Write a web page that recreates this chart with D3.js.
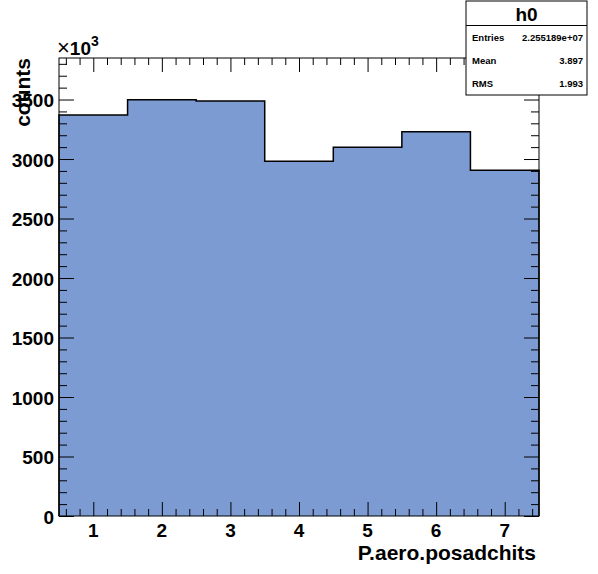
<!DOCTYPE html>
<html>
<head>
<meta charset="utf-8">
<script src="https://cdn.jsdelivr.net/npm/d3@7"></script>
<style>
  body { margin: 0; background: #fff; }
  svg { display: block; }
  text { font-family: "Liberation Sans", Arial, sans-serif; font-weight: bold; }
</style>
</head>
<body>
<div id="chart"></div>
<script>
// histogram bins (x = P.aero.posadchits), counts in units of 10^3
var binCenters = [1, 2, 3, 4, 5, 6, 7];
var binCounts = [3370, 3498, 3488, 2981, 3098, 3229, 2905];
var xTickValues = [1, 2, 3, 4, 5, 6, 7];
var yTickValues = [0, 500, 1000, 1500, 2000, 2500, 3000, 3500];

// stats box text
var statsTitle = "h0";
var statsNames = ["Entries", "Mean", "RMS"];
var statsValues = ["2.255189e+07", "3.897", "1.993"];

var width = 598;
var height = 574;

// frame position
var fLeft = 59, fRight = 539, fTop = 58, fBottom = 516;

var svg = d3.select("#chart")
    .append("svg")
    .attr("width", width)
    .attr("height", height);

var xScale = d3.scaleLinear().domain([0.5, 7.5]).range([fLeft, fRight]);
var yScale = d3.scaleLinear().domain([0, 3849]).range([fBottom, fTop]);

// histogram fill + outline
var stepPts = [[0.5, 0]];
binCenters.forEach(function(c, i) {
  stepPts.push([c - 0.5, binCounts[i]]);
  stepPts.push([c + 0.5, binCounts[i]]);
});
stepPts.push([7.5, 0]);

var line = d3.line()
    .x(function(d) { return xScale(d[0]); })
    .y(function(d) { return yScale(d[1]); });

svg.append("path")
    .attr("d", line(stepPts) + "Z")
    .attr("fill", "#7c9bd2")
    .attr("stroke", "none");

svg.append("path")
    .attr("d", line(stepPts))
    .attr("fill", "none")
    .attr("stroke", "#000")
    .attr("stroke-width", 1.5);

// minor tick values
var xMinor = d3.range(0.6, 7.5, 0.2).filter(function(v) {
  return Math.abs(v - Math.round(v)) > 0.01;
});
var yMinor = d3.range(100, 3849, 100).filter(function(v) { return v % 500 !== 0; });

function drawAxis(axis, tx, ty) {
  var g = svg.append("g")
      .attr("transform", "translate(" + tx + "," + ty + ")")
      .call(axis);
  g.select(".domain").remove();
  g.selectAll("line").attr("stroke", "#000").attr("stroke-width", 1);
  g.selectAll("text").remove();
  return g;
}

// x ticks on bottom (pointing up) and top (pointing down)
drawAxis(d3.axisBottom(xScale).tickValues(xTickValues).tickSize(-14), 0, fBottom);
drawAxis(d3.axisBottom(xScale).tickValues(xMinor).tickSize(-7), 0, fBottom);
drawAxis(d3.axisTop(xScale).tickValues(xTickValues).tickSize(-14), 0, fTop);
drawAxis(d3.axisTop(xScale).tickValues(xMinor).tickSize(-7), 0, fTop);

// y ticks on left (pointing right) and right (pointing left)
drawAxis(d3.axisLeft(yScale).tickValues(yTickValues).tickSize(-15), fLeft, 0);
drawAxis(d3.axisLeft(yScale).tickValues(yMinor).tickSize(-8), fLeft, 0);
drawAxis(d3.axisRight(yScale).tickValues(yTickValues).tickSize(-15), fRight, 0);
drawAxis(d3.axisRight(yScale).tickValues(yMinor).tickSize(-8), fRight, 0);

// frame
svg.append("rect")
    .attr("x", fLeft).attr("y", fTop)
    .attr("width", fRight - fLeft).attr("height", fBottom - fTop)
    .attr("fill", "none")
    .attr("stroke", "#000")
    .attr("stroke-width", 1);

// tick labels
svg.append("g").selectAll("text")
    .data(xTickValues).enter()
    .append("text")
    .attr("x", function(d) { return xScale(d); })
    .attr("y", 537)
    .attr("text-anchor", "middle")
    .attr("font-size", 19)
    .text(function(d) { return d; });

svg.append("g").selectAll("text")
    .data(yTickValues).enter()
    .append("text")
    .attr("x", 54)
    .attr("y", function(d) { return yScale(d) + 7.5; })
    .attr("text-anchor", "end")
    .attr("font-size", 19)
    .text(function(d) { return d; });

// exponent label
var expo = svg.append("text")
    .attr("x", 57)
    .attr("y", 55)
    .attr("font-size", 19);
expo.append("tspan").attr("font-weight", "normal").attr("font-size", 22).text("\u00d7");
expo.append("tspan").text("10");
expo.append("tspan").attr("font-size", 14).attr("dy", -9).text("3");

// axis titles
svg.append("text")
    .attr("x", 536)
    .attr("y", 560)
    .attr("text-anchor", "end")
    .attr("font-size", 21)
    .text("P.aero.posadchits");

svg.append("text")
    .attr("transform", "translate(30," + fTop + ")rotate(-90)")
    .attr("text-anchor", "end")
    .attr("font-size", 21)
    .text("counts");

// stats box
var sx = 466, sy = 1, sw = 121, sh = 94;
svg.append("rect")
    .attr("x", sx).attr("y", sy).attr("width", sw).attr("height", sh)
    .attr("fill", "#fff").attr("stroke", "#000").attr("stroke-width", 1);
svg.append("line")
    .attr("x1", sx).attr("x2", sx + sw)
    .attr("y1", 25.5).attr("y2", 25.5)
    .attr("stroke", "#000");
svg.append("text")
    .attr("x", sx + sw / 2).attr("y", 21)
    .attr("text-anchor", "middle")
    .attr("font-size", 19)
    .text(statsTitle);

var rowY = [41, 64, 87];
statsNames.forEach(function(n, i) {
  svg.append("text")
      .attr("x", sx + 6).attr("y", rowY[i])
      .attr("font-size", 9.5)
      .text(n);
  svg.append("text")
      .attr("x", sx + sw - 4).attr("y", rowY[i])
      .attr("text-anchor", "end")
      .attr("font-size", 9.5)
      .text(statsValues[i]);
});
</script>
</body>
</html>
